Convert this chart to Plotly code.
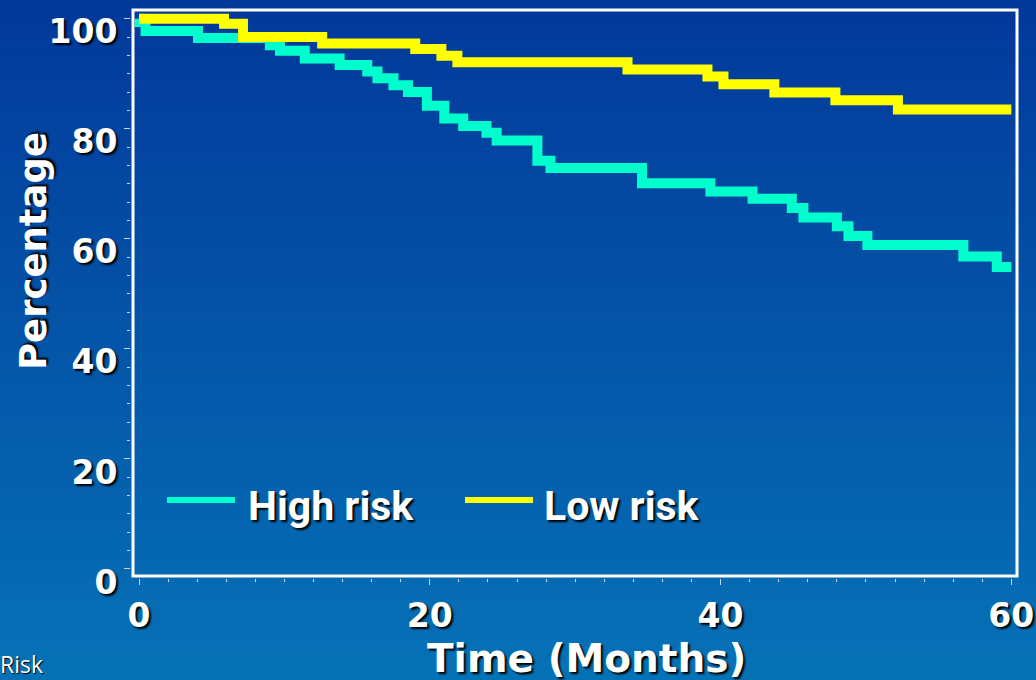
import plotly.graph_objects as go

# ---- data ----
months_high = [0, 0.05, 0.45, 4.06, 9.0, 9.7, 11.4, 13.8, 15.7, 16.4, 17.5, 18.5, 19.8, 21.0,
               22.3, 23.9, 24.6, 27.4, 28.3, 34.6, 39.3, 42.2, 44.9, 45.7, 48.0, 48.8, 50.1,
               56.7, 59.0, 60]
surv_high = [100, 99.4, 97.8, 96.5, 95.2, 94.2, 92.8, 91.6, 90.4, 89.2, 87.9, 86.7, 84.2, 81.9,
             80.5, 79.3, 77.9, 74.2, 72.9, 70.1, 68.6, 67.3, 65.6, 63.9, 62.3, 60.5, 58.9,
             56.8, 54.9, 54.9]
months_low = [0, 5.85, 7.15, 12.6, 19.0, 20.8, 21.9, 33.6, 39.1, 40.2, 43.7, 47.9, 52.2, 60]
surv_low = [100, 99.1, 96.7, 95.5, 94.5, 93.3, 92.1, 90.8, 89.5, 88.1, 86.6, 85.2, 83.5, 83.5]
series_names = ["High risk", "Low risk"]
series_colors = ["#00FFCC", "#FFFF00"]
x_ticks = [0, 20, 40, 60]
y_ticks = [0, 20, 40, 60, 80, 100]
x_title = "Time (Months)"
y_title = "Percentage"
corner_text = "Risk"

W, H = 1036, 680


def px(x):
    return x / W


def py(y):
    return 1 - y / H


SHADOW = "2px 2px 2px #000000"
tick_font = dict(family="DejaVu Sans", size=33, color="white", weight="bold", shadow=SHADOW)

fig = go.Figure()
for xs, ys, name, col in [(months_high, surv_high, series_names[0], series_colors[0]),
                          (months_low, surv_low, series_names[1], series_colors[1])]:
    fig.add_trace(go.Scatter(x=xs, y=ys, mode="lines", name=name, showlegend=False,
                             line=dict(shape="hv", color=col, width=10)))

shapes = []
# vertical background gradient
top_c = (2, 56, 154)
bot_c = (6, 114, 182)
n = 68
for i in range(n):
    t = (i + 0.5) / n
    c = tuple(int(round(top_c[k] + (bot_c[k] - top_c[k]) * t)) for k in range(3))
    shapes.append(dict(type="rect", xref="paper", yref="paper", x0=0, x1=1,
                       y0=py((i + 1) * H / n) - 0.001, y1=py(i * H / n) + 0.001,
                       fillcolor="rgb(%d,%d,%d)" % c, line=dict(width=0), layer="below"))
# white frame
shapes.append(dict(type="rect", xref="paper", yref="paper", x0=px(133), x1=px(1017),
                   y0=py(576), y1=py(10), line=dict(color="white", width=3),
                   fillcolor="rgba(0,0,0,0)", layer="above"))
# manual legend samples
legend_items = [(167, 235, 246), (465, 533, 542)]
annotations = []
for (xa, xb, xt), name, col in zip(legend_items, series_names, series_colors):
    shapes.append(dict(type="line", xref="paper", yref="paper", x0=px(xa), x1=px(xb),
                       y0=py(500), y1=py(500), line=dict(color=col, width=6)))
    annotations.append(dict(text=name, xref="paper", yref="paper", x=px(xt), y=py(506),
                            xanchor="left", yanchor="middle", showarrow=False,
                            font=dict(family="Roboto", size=41, color="white",
                                      weight="bold", shadow=SHADOW)))

annotations.append(dict(text=y_title, xref="paper", yref="paper", x=px(33), y=py(251),
                        textangle=-90, xanchor="center", yanchor="middle", showarrow=False,
                        font=dict(family="DejaVu Sans", size=37, color="white",
                                  weight="bold", shadow=SHADOW)))
annotations.append(dict(text=x_title, xref="paper", yref="paper", x=px(586), y=py(658),
                        xanchor="center", yanchor="middle", showarrow=False,
                        font=dict(family="DejaVu Sans", size=39, color="white",
                                  weight="bold", shadow=SHADOW)))
annotations.append(dict(text=corner_text, xref="paper", yref="paper", x=px(45), y=py(664),
                        xanchor="right", yanchor="middle", showarrow=False,
                        font=dict(family="Open Sans", size=23, color="white",
                                  shadow="1px 1px 1px #000000")))

tick_col = "#c5d6ee"
fig.update_layout(
    width=W, height=H,
    margin=dict(l=0, r=0, t=0, b=0, autoexpand=False),
    paper_bgcolor="rgb(2,56,154)",
    plot_bgcolor="rgba(0,0,0,0)",
    shapes=shapes,
    annotations=annotations,
    showlegend=False,
    xaxis=dict(domain=[px(131), px(1017)], range=[-0.55, 60.39],
               tickmode="array", tickvals=x_ticks, ticktext=[str(v) for v in x_ticks],
               ticks="outside", ticklen=6, tickwidth=1, tickcolor=tick_col,
               showgrid=False, zeroline=False, showline=False,
               tickfont=tick_font, ticklabelstandoff=2,
               minor=dict(dtick=2, tick0=0, ticks="outside", ticklen=3,
                          tickcolor=tick_col, showgrid=False)),
    yaxis=dict(domain=[py(578), py(10)], range=[-1.64, 101.6],
               tickmode="array", tickvals=y_ticks, ticktext=[str(v) for v in y_ticks],
               ticks="outside", ticklen=6, tickwidth=1, tickcolor=tick_col,
               showgrid=False, zeroline=False, showline=False,
               tickfont=tick_font, ticklabelstandoff=0, ticklabelshift=13,
               minor=dict(dtick=20 / 6, tick0=0, ticks="outside", ticklen=3,
                          tickcolor=tick_col, showgrid=False)),
)

fig.write_html("out.html")
